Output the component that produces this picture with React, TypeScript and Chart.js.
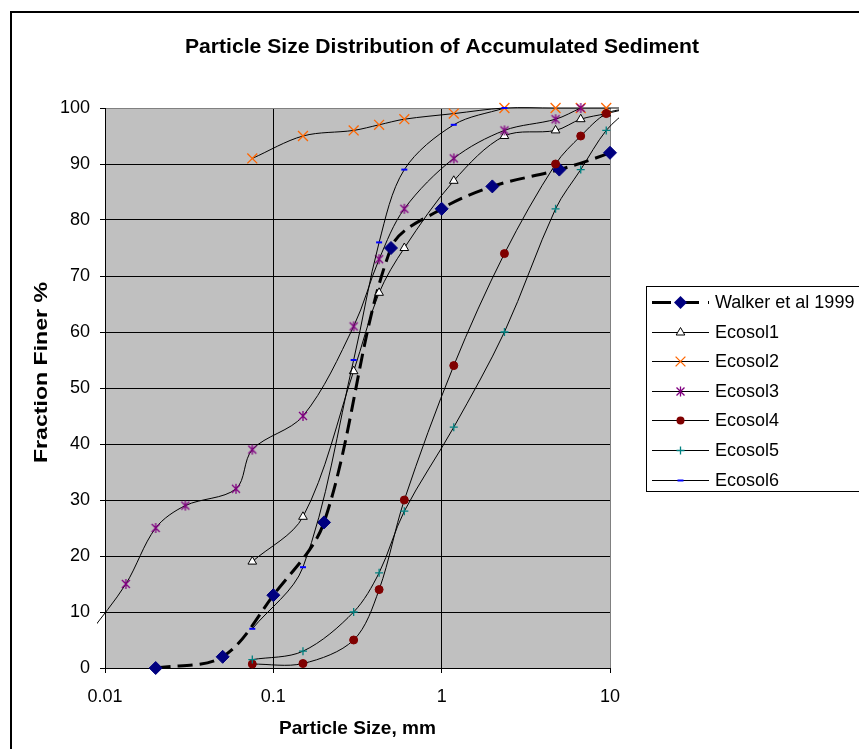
import React, { useEffect, useRef } from 'react';
import { Chart, registerables } from 'chart.js';

Chart.register(...registerables);

const FONT = "'Liberation Sans', Arial, Helvetica, sans-serif";

// ---- data ----
const xTickValues = [0.01, 0.1, 1, 10];
const xTickLabels = ['0.01', '0.1', '1', '10'];

const walkerX = [0.02, 0.05, 0.1, 0.2, 0.5, 1, 2, 5, 10, 20];
const walkerY = [0, 2, 13, 26, 75, 82, 86, 89, 92, 96];

const sieveX = [0.075, 0.15, 0.3, 0.425, 0.6, 1.18, 2.36, 4.75, 6.7, 9.5, 13.2];
const ecosol1Y = [19, 27, 53, 67, 75, 87, 95, 96, 98, 99, 100];
const ecosol2Y = [91, 95, 96, 97, 98, 99, 100, 100, 100, 100, 100];
const ecosol4Y = [0.7, 0.8, 5, 14, 30, 54, 74, 90, 95, 99, 100];
const ecosol5Y = [1.5, 3, 10, 17, 28, 43, 60, 82, 89, 96, 100];

const ecosol3X = [0.008, 0.0133, 0.02, 0.03, 0.06, 0.075, 0.15, 0.3, 0.425, 0.6, 1.18, 2.36, 4.75, 6.7];
const ecosol3Y = [6, 15, 25, 29, 32, 39, 45, 61, 73, 82, 91, 96, 98, 100];

const ecosol6X = [0.075, 0.15, 0.3, 0.425, 0.6, 1.18, 2.36];
const ecosol6Y = [7, 18, 55, 76, 89, 97, 100];

const seriesLabels = ['Walker et al 1999', 'Ecosol1', 'Ecosol2', 'Ecosol3', 'Ecosol4', 'Ecosol5', 'Ecosol6'];

const TITLE = 'Particle Size Distribution of Accumulated Sediment';
const X_TITLE = 'Particle Size, mm';
const Y_TITLE = 'Fraction Finer %';

function pts(xs: number[], ys: number[]) {
  return xs.map((x, i) => ({ x, y: ys[i] }));
}

function drawAsterisk(ctx: CanvasRenderingContext2D, cx: number, cy: number) {
  ctx.save();
  ctx.strokeStyle = '#800080';
  ctx.lineWidth = 1.3;
  ctx.beginPath();
  ctx.moveTo(cx - 4, cy - 4); ctx.lineTo(cx + 4, cy + 4);
  ctx.moveTo(cx + 4, cy - 4); ctx.lineTo(cx - 4, cy + 4);
  ctx.moveTo(cx, cy - 5); ctx.lineTo(cx, cy + 5);
  ctx.stroke();
  ctx.restore();
}

function makeAsterisk(): HTMLCanvasElement {
  const c = document.createElement('canvas');
  c.width = 12; c.height = 12;
  const ctx = c.getContext('2d')!;
  drawAsterisk(ctx, 6, 6);
  return c;
}

function drawLegendMarker(ctx: CanvasRenderingContext2D, i: number, x: number, y: number) {
  ctx.save();
  ctx.setLineDash([]);
  ctx.beginPath();
  if (i === 0) {
    const r = 6.5;
    ctx.moveTo(x, y - r); ctx.lineTo(x + r, y); ctx.lineTo(x, y + r); ctx.lineTo(x - r, y); ctx.closePath();
    ctx.fillStyle = '#000080'; ctx.fill();
  } else if (i === 1) {
    const r = 5;
    ctx.moveTo(x, y - r); ctx.lineTo(x + r * 0.866, y + r / 2); ctx.lineTo(x - r * 0.866, y + r / 2); ctx.closePath();
    ctx.fillStyle = '#fff'; ctx.fill();
    ctx.strokeStyle = '#000'; ctx.lineWidth = 1; ctx.stroke();
  } else if (i === 2) {
    const o = 4.9;
    ctx.moveTo(x - o, y - o); ctx.lineTo(x + o, y + o);
    ctx.moveTo(x + o, y - o); ctx.lineTo(x - o, y + o);
    ctx.strokeStyle = '#FF6600'; ctx.lineWidth = 1.3; ctx.stroke();
  } else if (i === 3) {
    drawAsterisk(ctx, x, y);
  } else if (i === 4) {
    ctx.arc(x, y, 4, 0, Math.PI * 2);
    ctx.fillStyle = '#800000'; ctx.fill();
  } else if (i === 5) {
    ctx.moveTo(x - 4, y); ctx.lineTo(x + 4, y);
    ctx.moveTo(x, y - 4); ctx.lineTo(x, y + 4);
    ctx.strokeStyle = '#008080'; ctx.lineWidth = 1.3; ctx.stroke();
  } else {
    ctx.moveTo(x - 3, y); ctx.lineTo(x + 3, y);
    ctx.strokeStyle = '#0000FF'; ctx.lineWidth = 2; ctx.stroke();
  }
  ctx.restore();
}

function fitText(ctx: CanvasRenderingContext2D, text: string, x: number, y: number, width: number, rotate: boolean) {
  ctx.save();
  ctx.translate(x, y);
  if (rotate) ctx.rotate(-Math.PI / 2);
  const w = ctx.measureText(text).width;
  ctx.scale(width / w, 1);
  ctx.textAlign = 'center';
  ctx.textBaseline = 'alphabetic';
  ctx.fillText(text, 0, 0);
  ctx.restore();
}

const decorPlugin = {
  id: 'decor',
  beforeDraw(chart: any) {
    const { ctx, chartArea: a, width, height } = chart;
    ctx.save();
    ctx.fillStyle = '#fff';
    ctx.fillRect(0, 0, width, height);
    ctx.strokeStyle = '#000';
    ctx.lineWidth = 2;
    ctx.strokeRect(3, 4, width - 6, height - 8);
    ctx.fillStyle = '#C0C0C0';
    ctx.fillRect(a.left, a.top, a.right - a.left, a.bottom - a.top);
    ctx.restore();
  },
  afterDraw(chart: any) {
    const { ctx } = chart;
    ctx.save();
    ctx.fillStyle = '#000';
    ctx.font = `bold 21px ${FONT}`;
    fitText(ctx, TITLE, 434, 45, 514, false);
    ctx.font = `bold 18.5px ${FONT}`;
    fitText(ctx, X_TITLE, 349.5, 726, 157, false);
    ctx.font = `bold 18.5px ${FONT}`;
    fitText(ctx, Y_TITLE, 38.7, 364.5, 181, true);

    // legend
    const lx = 638.5, ly = 278.5;
    ctx.strokeStyle = '#000';
    ctx.lineWidth = 1;
    ctx.strokeRect(lx, ly, 300, 205);
    ctx.font = `18px ${FONT}`;
    ctx.textAlign = 'left';
    ctx.textBaseline = 'middle';
    for (let i = 0; i < seriesLabels.length; i++) {
      const y = 294 + i * 29.6;
      ctx.save();
      ctx.beginPath();
      ctx.strokeStyle = '#000';
      if (i === 0) {
        ctx.lineWidth = 3;
        ctx.setLineDash([19, 9]);
      } else {
        ctx.lineWidth = 1;
      }
      ctx.moveTo(644, Math.round(y) + 0.5);
      ctx.lineTo(701, Math.round(y) + 0.5);
      ctx.stroke();
      ctx.restore();
      drawLegendMarker(ctx, i, 672.5, Math.round(y) + 0.5);
      ctx.fillStyle = '#000';
      ctx.fillText(seriesLabels[i], 707, y + 1);
    }
    ctx.restore();
  },
};

export default function App() {
  const ref = useRef<HTMLCanvasElement>(null);

  useEffect(() => {
    const canvas = ref.current!;
    const asterisk = makeAsterisk();
    const clip = { left: 8, top: 10, right: 9, bottom: 10 };
    const base = {
      borderColor: '#000',
      borderWidth: 1,
      tension: 0.33,
      fill: false,
      clip,
      pointBorderWidth: 1,
    };
    const chart = new Chart(canvas, {
      type: 'line',
      data: {
        datasets: [
          {
            ...base,
            label: seriesLabels[0],
            data: pts(walkerX, walkerY),
            borderWidth: 3,
            borderDash: [15, 7],
            pointStyle: 'rectRot',
            pointRadius: 6.5,
            pointBackgroundColor: '#000080',
            pointBorderColor: '#000080',
            order: 7,
          },
          {
            ...base,
            label: seriesLabels[1],
            data: pts(sieveX, ecosol1Y),
            pointStyle: 'triangle',
            pointRadius: 5,
            pointBackgroundColor: '#fff',
            pointBorderColor: '#000',
            order: 6,
          },
          {
            ...base,
            label: seriesLabels[2],
            data: pts(sieveX, ecosol2Y),
            pointStyle: 'crossRot',
            pointRadius: 7,
            pointBorderColor: '#FF6600',
            pointBackgroundColor: '#FF6600',
            pointBorderWidth: 1.3,
            order: 5,
          },
          {
            ...base,
            label: seriesLabels[3],
            data: pts(ecosol3X, ecosol3Y),
            pointStyle: asterisk,
            pointRadius: 5,
            order: 4,
          },
          {
            ...base,
            label: seriesLabels[4],
            data: pts(sieveX, ecosol4Y),
            pointStyle: 'circle',
            pointRadius: 4,
            pointBackgroundColor: '#800000',
            pointBorderColor: '#800000',
            order: 3,
          },
          {
            ...base,
            label: seriesLabels[5],
            data: pts(sieveX, ecosol5Y),
            pointStyle: 'cross',
            pointRadius: 4,
            pointBorderColor: '#008080',
            pointBackgroundColor: '#008080',
            pointBorderWidth: 1.3,
            order: 2,
          },
          {
            ...base,
            label: seriesLabels[6],
            data: pts(ecosol6X, ecosol6Y),
            pointStyle: 'line',
            pointRadius: 3,
            pointBorderColor: '#0000FF',
            pointBackgroundColor: '#0000FF',
            pointBorderWidth: 2,
            order: 1,
          },
        ] as any,
      },
      options: {
        animation: false,
        responsive: false,
        devicePixelRatio: 1,
        events: [],
        layout: { padding: { left: 0, top: 100, right: 264, bottom: 0 } },
        elements: { line: { capBezierPoints: false } },
        plugins: {
          legend: { display: false },
          title: { display: false },
          tooltip: { enabled: false },
        },
        scales: {
          x: {
            type: 'logarithmic',
            min: 0.01,
            max: 10,
            afterBuildTicks: (s: any) => {
              s.ticks = xTickValues.map((v) => ({ value: v }));
            },
            afterFit: (s: any) => {
              s.height = 100;
            },
            ticks: {
              autoSkip: false,
              maxRotation: 0,
              padding: 13,
              color: '#000',
              font: { family: FONT, size: 18 },
              callback: (v: any) => {
                const idx = xTickValues.findIndex((t) => Math.abs(t - Number(v)) < 1e-9);
                return idx >= 0 ? xTickLabels[idx] : '';
              },
            },
            grid: {
              color: (c: any) => (c.tick && c.tick.value === 10 ? '#808080' : '#000'),
              tickColor: '#000',
              tickLength: 5,
              lineWidth: 1,
            },
            border: { color: '#000', width: 1 },
          },
          y: {
            type: 'linear',
            min: 0,
            max: 100,
            afterFit: (s: any) => {
              s.width = 97;
            },
            ticks: {
              stepSize: 10,
              padding: 10,
              color: '#000',
              font: { family: FONT, size: 18 },
            },
            grid: {
              color: (c: any) => (c.tick && c.tick.value === 100 ? '#808080' : '#000'),
              tickColor: '#000',
              tickLength: 5,
              lineWidth: 1,
            },
            border: { color: '#000', width: 1 },
          },
        },
      } as any,
      plugins: [decorPlugin],
    });
    return () => chart.destroy();
  }, []);

  return (
    <div
      style={{
        position: 'fixed',
        left: 0,
        top: 0,
        width: 859,
        height: 749,
        overflow: 'hidden',
        background: '#fff',
      }}
    >
      <canvas
        ref={ref}
        width={866}
        height={760}
        style={{ position: 'absolute', left: 8, top: 8, width: 866, height: 760 }}
      />
    </div>
  );
}
